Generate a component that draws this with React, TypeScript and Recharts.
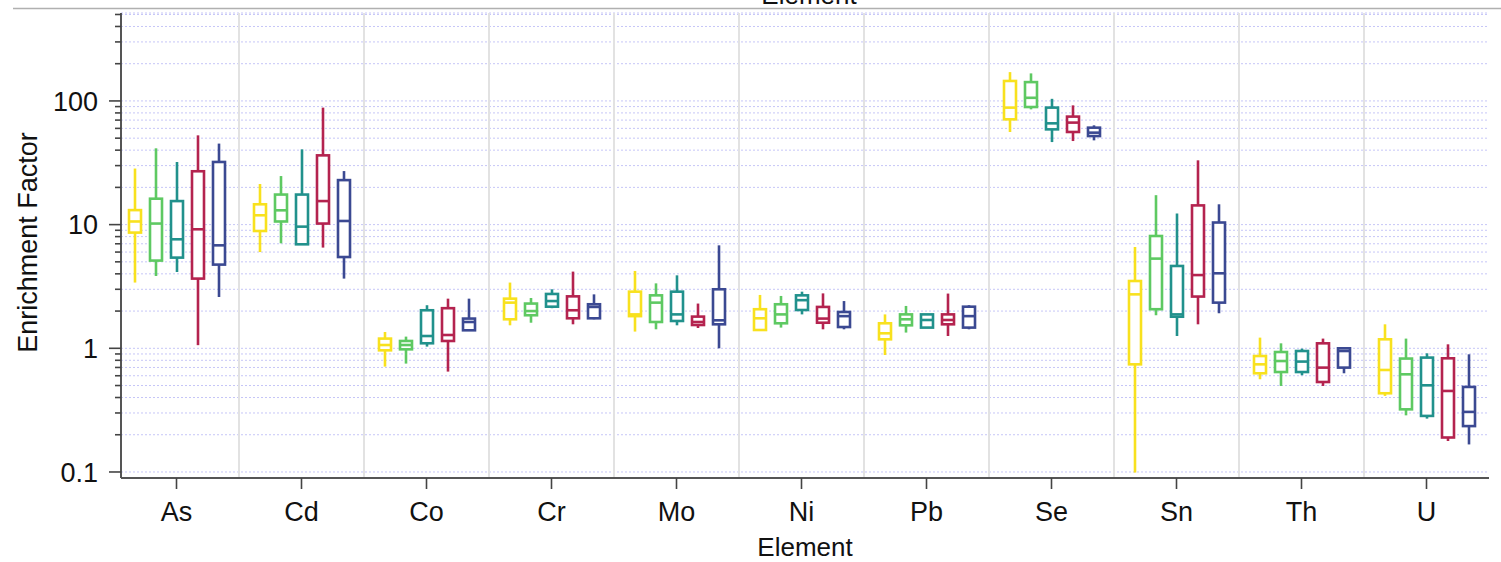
import React from 'react'
import { Bar, CartesianGrid, ComposedChart, XAxis, YAxis } from 'recharts'

// box stats per element: [min, q1, median, q3, max]
const elements = ['As', 'Cd', 'Co', 'Cr', 'Mo', 'Ni', 'Pb', 'Se', 'Sn', 'Th', 'U']

const yellowStats = [
  [3.4, 8.62, 10.6, 13.1, 28.4],
  [6.0, 8.88, 11.9, 14.6, 21.3],
  [0.711, 0.963, 1.063, 1.198, 1.355],
  [1.534, 1.716, 2.34, 2.52, 3.4],
  [1.365, 1.82, 1.88, 2.87, 4.22],
  [1.39, 1.406, 1.748, 2.07, 2.7],
  [0.883, 1.182, 1.322, 1.593, 1.88],
  [56.1, 71.0, 88.3, 145, 171],
  [0.0989, 0.742, 2.73, 3.5, 6.59],
  [0.562, 0.628, 0.742, 0.866, 1.22],
  [0.412, 0.433, 0.668, 1.182, 1.563],
]

const greenStats = [
  [3.84, 5.12, 10.2, 16.2, 41.4],
  [7.06, 10.6, 13.05, 17.5, 24.7],
  [0.752, 0.981, 1.063, 1.146, 1.243],
  [1.61, 1.85, 2.0, 2.3, 2.55],
  [1.424, 1.632, 2.34, 2.68, 3.35],
  [1.47, 1.593, 1.88, 2.27, 2.65],
  [1.34, 1.534, 1.716, 1.88, 2.2],
  [85.5, 89.3, 106, 142, 167],
  [1.85, 2.07, 5.31, 8.09, 17.3],
  [0.496, 0.643, 0.789, 0.933, 1.097],
  [0.287, 0.321, 0.616, 0.826, 1.198],
]

const tealStats = [
  [4.14, 5.41, 7.61, 15.5, 32.1],
  [6.9, 6.93, 9.63, 17.5, 40.6],
  [1.032, 1.098, 1.257, 2.03, 2.23],
  [2.11, 2.17, 2.41, 2.75, 3.0],
  [1.534, 1.663, 1.88, 2.87, 3.89],
  [1.88, 2.04, 2.45, 2.68, 2.87],
  [1.46, 1.47, 1.694, 1.88, 1.89],
  [46.5, 58.9, 65.9, 88.3, 104],
  [1.257, 1.8, 1.88, 4.63, 12.3],
  [0.605, 0.643, 0.781, 0.951, 0.994],
  [0.27, 0.284, 0.502, 0.841, 0.911],
]

const crimsonStats = [
  [1.06, 3.66, 9.17, 27.0, 52.7],
  [6.52, 10.2, 15.5, 36.3, 88.3],
  [0.648, 1.146, 1.281, 2.11, 2.52],
  [1.563, 1.748, 2.03, 2.63, 4.17],
  [1.459, 1.543, 1.632, 1.804, 2.3],
  [1.424, 1.61, 1.739, 2.16, 2.78],
  [1.257, 1.563, 1.694, 1.88, 2.77],
  [47.4, 56.1, 66.8, 74.7, 92.1],
  [1.563, 2.62, 3.91, 14.3, 33.1],
  [0.496, 0.534, 0.698, 1.097, 1.198],
  [0.178, 0.19, 0.452, 0.83, 1.077],
]

const navyStats = [
  [2.6, 4.75, 6.8, 32.1, 45.2],
  [3.66, 5.47, 10.7, 22.9, 27.1],
  [1.38, 1.398, 1.632, 1.739, 2.52],
  [1.716, 1.748, 2.16, 2.27, 2.73],
  [1.0, 1.563, 1.684, 3.0, 6.8],
  [1.424, 1.486, 1.82, 1.966, 2.41],
  [1.424, 1.47, 1.82, 2.17, 2.23],
  [48.0, 52.0, 55.4, 60.8, 63.5],
  [1.92, 2.34, 4.04, 10.4, 14.6],
  [0.628, 0.698, 0.951, 1.0, 1.01],
  [0.167, 0.235, 0.306, 0.487, 0.894],
]

const seriesStats = [yellowStats, greenStats, tealStats, crimsonStats, navyStats]
const seriesColors = ['#F8E11E', '#5EC962', '#21918C', '#B4234F', '#3B4992']

const majorTicks = [0.1, 1, 10, 100]
const yTicks = [
  0.1, 0.2, 0.3, 0.4, 0.5, 0.6, 0.7, 0.8, 0.9,
  1, 2, 3, 4, 5, 6, 7, 8, 9,
  10, 20, 30, 40, 50, 60, 70, 80, 90,
  100, 200, 300, 400, 500,
]

const data = elements.map((el, i) => {
  const row: any = { element: el }
  seriesStats.forEach((s, k) => {
    row[`r${k}`] = [s[i][0], s[i][4]]
    row[`s${k}`] = s[i]
  })
  return row
})

const FONT = '"Liberation Sans", Arial, sans-serif'
const PAD_LEFT = -7

const BoxShape = (props: any) => {
  const { x, y, width, height, payload, color, statKey } = props
  const [mn, q1, md, q3, mx] = payload[statKey]
  const top = Math.min(y, y + height)
  const bot = Math.max(y, y + height)
  const lmin = Math.log10(mn)
  const span = Math.log10(mx) - lmin
  const at = (v: number) => bot - ((Math.log10(v) - lmin) / span) * (bot - top)
  const cx = x + width / 2
  const sw = 2.6
  return (
    <g>
      <line x1={cx} x2={cx} y1={top} y2={bot} stroke={color} strokeWidth={sw} />
      <rect
        x={x + 1}
        y={at(q3)}
        width={width - 2}
        height={Math.max(at(q1) - at(q3), 0.5)}
        fill="#fff"
        stroke={color}
        strokeWidth={sw}
      />
      <line x1={x + 1} x2={x + width - 1} y1={at(md)} y2={at(md)} stroke={color} strokeWidth={sw} />
    </g>
  )
}

const YTick = (props: any) => {
  const { x, y, payload } = props
  const major = majorTicks.includes(payload.value)
  return (
    <g>
      <line x1={x - (major ? 12 : 6)} x2={x} y1={y} y2={y} stroke="#444" strokeWidth={1.6} />
      {major && (
        <text x={x - 23} y={y} dy="0.36em" textAnchor="end" fontSize={27} fontFamily={FONT} fill="#111">
          {payload.value}
        </text>
      )}
    </g>
  )
}

const verticalLines = ({ offset }: any) => {
  const band = (offset.width - PAD_LEFT) / elements.length
  const start = offset.left + PAD_LEFT
  return elements.slice(1).map((_, i) => start + band * (i + 1))
}

export default function App() {
  return (
    <div style={{ position: 'absolute', left: 0, top: 0, width: 1501, height: 562, background: '#fff' }}>
      <svg width={1501} height={20} style={{ position: 'absolute', left: 0, top: 0 }}>
        <text x={809} y={4} textAnchor="middle" fontSize={26} fontFamily={FONT} fill="#111">
          Element
        </text>
        <line x1={13} x2={1501} y1={8.5} y2={8.5} stroke="#b0b0b0" strokeWidth={1.5} />
      </svg>
      <div style={{ position: 'absolute', left: 0, top: 0 }}>
        <ComposedChart
          width={1501}
          height={562}
          data={data}
          margin={{ top: 13, right: 12, bottom: 0, left: 0 }}
          barSize={14}
          barGap={7}
        >
          <CartesianGrid
            vertical={false}
            stroke="#c6c6f7"
            strokeDasharray="2 2"
            strokeWidth={1}
          />
          <CartesianGrid
            horizontal={false}
            stroke="#e2e2e2"
            strokeWidth={2}
            verticalCoordinatesGenerator={verticalLines}
          />
          <XAxis
            dataKey="element"
            height={84}
            padding={{ left: PAD_LEFT, right: 0 }}
            axisLine={{ stroke: '#555', strokeWidth: 2 }}
            tickLine={{ stroke: '#444', strokeWidth: 1.6 }}
            tickSize={11}
            tickMargin={13}
            interval={0}
            tick={{ fontSize: 27, fontFamily: FONT, fill: '#111' }}
            label={{ value: 'Element', position: 'insideBottom', offset: 6, fontSize: 26, fontFamily: FONT, fill: '#111' }}
          />
          <YAxis
            scale="log"
            domain={[0.0894, 514]}
            allowDataOverflow
            ticks={yTicks}
            interval={0}
            width={121}
            tickSize={0}
            tickMargin={0}
            tickLine={false}
            axisLine={{ stroke: '#555', strokeWidth: 2 }}
            tick={<YTick />}
            label={{
              content: ({ viewBox }: any) => (
                <text
                  x={viewBox.x + 28}
                  y={viewBox.y + viewBox.height / 2 - 3}
                  transform={`rotate(-90, ${viewBox.x + 28}, ${viewBox.y + viewBox.height / 2 - 3})`}
                  textAnchor="middle"
                  dominantBaseline="central"
                  fontSize={27}
                  fontFamily={FONT}
                  fill="#111"
                >
                  Enrichment Factor
                </text>
              ),
            }}
          />
          {seriesColors.map((c, k) => (
            <Bar
              key={k}
              dataKey={`r${k}`}
              isAnimationActive={false}
              shape={(p: any) => <BoxShape {...p} color={c} statKey={`s${k}`} />}
            />
          ))}
        </ComposedChart>
      </div>
    </div>
  )
}
